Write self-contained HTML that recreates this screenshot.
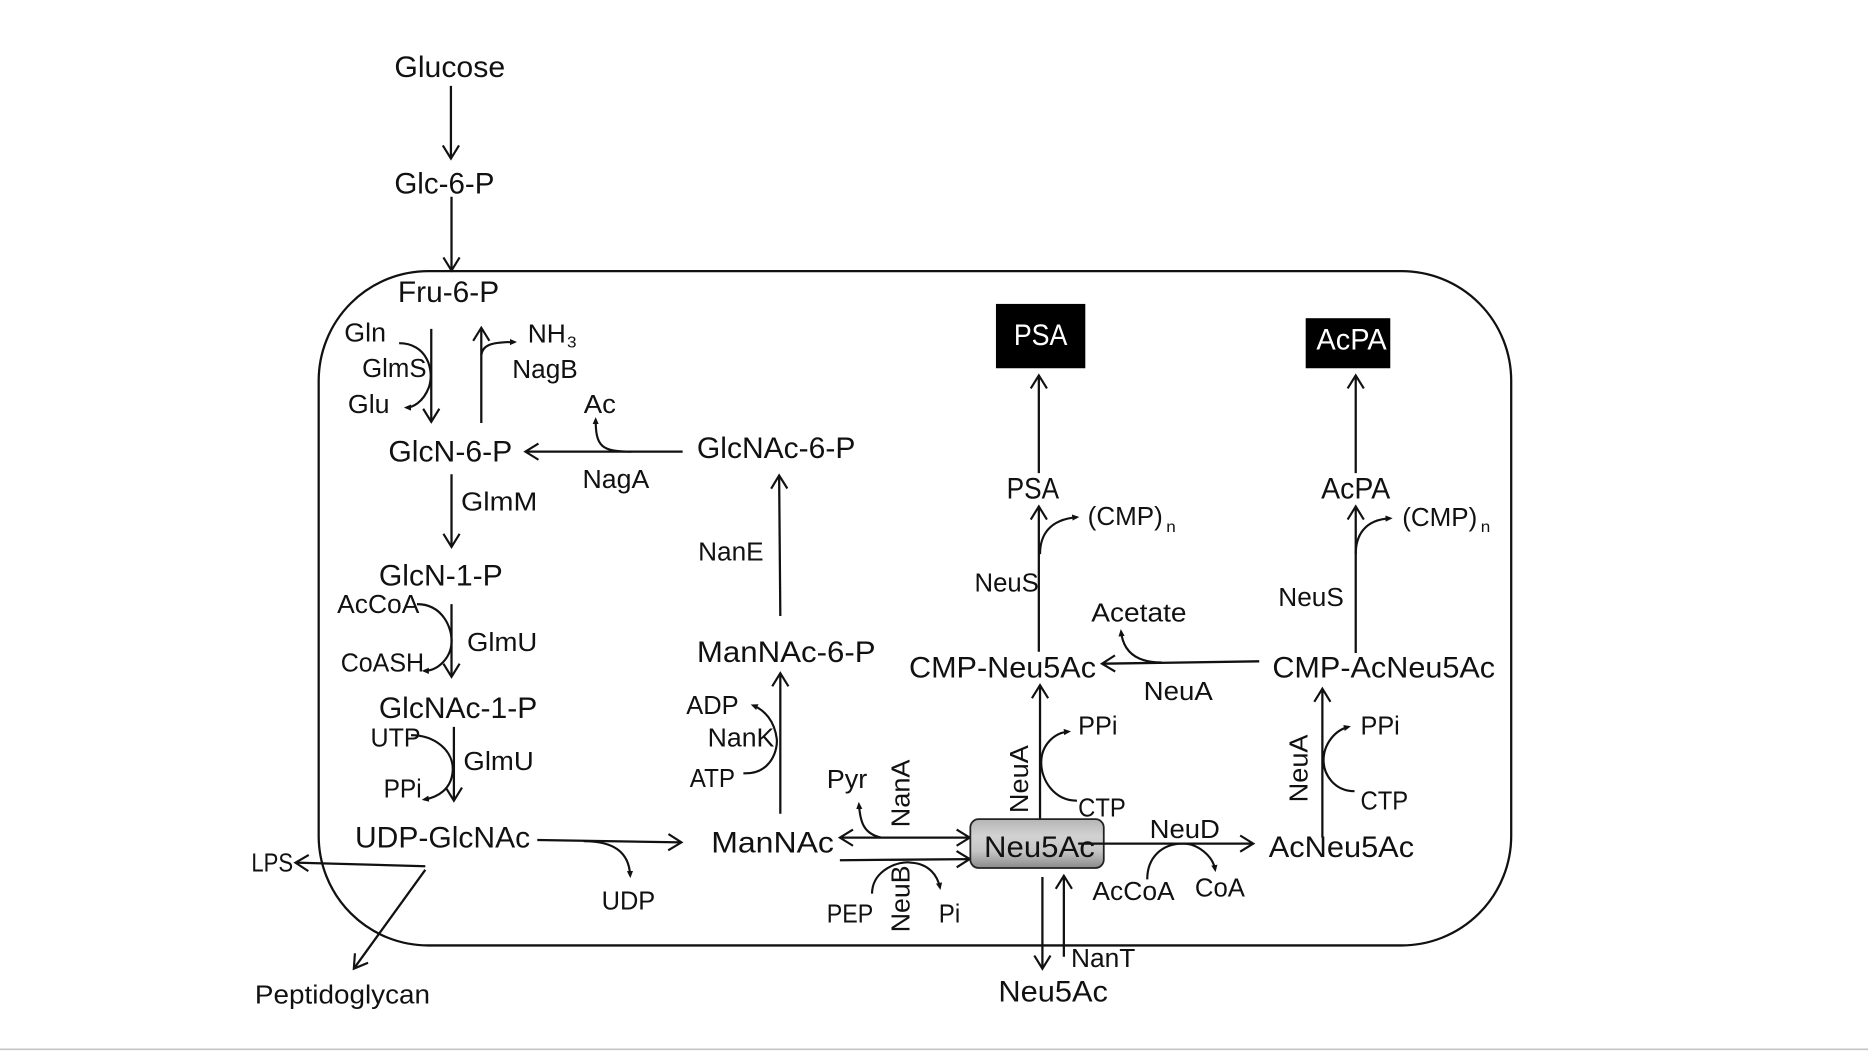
<!DOCTYPE html>
<html><head><meta charset="utf-8">
<style>
html,body{margin:0;padding:0;background:#fff;width:1868px;height:1051px;overflow:hidden}
svg{display:block}
text{font-family:"Liberation Sans",sans-serif;fill:#111}
.b{font-size:25px}.m{font-size:22px}.s{font-size:13px}
.l{fill:none;stroke:#111;stroke-width:1.9}
.a{marker-end:url(#v)}
.c{fill:none;stroke:#111;stroke-width:1.8;marker-end:url(#t)}
</style></head><body>
<svg width="1868" height="1051" viewBox="0 0 1568 882" xmlns="http://www.w3.org/2000/svg">
<defs>
<marker id="v" markerUnits="userSpaceOnUse" markerWidth="24" markerHeight="24" refX="14" refY="10" orient="auto-start-reverse" viewBox="0 0 24 20">
<path d="M3 3.2 L14 10 L3 16.8" fill="none" stroke="#111" stroke-width="1.8"/></marker>
<marker id="t" markerUnits="userSpaceOnUse" markerWidth="6" markerHeight="6" refX="4" refY="3" orient="auto" viewBox="0 0 6 6">
<path d="M0 0.4 L6 3 L0 5.6Z" fill="#111"/></marker>
<linearGradient id="g" x1="0" y1="0" x2="0" y2="1"><stop offset="0" stop-color="#b5b5b5"/><stop offset=".35" stop-color="#d2d2d2"/><stop offset=".65" stop-color="#c6c6c6"/><stop offset="1" stop-color="#8a8a8a"/></linearGradient>
</defs>
<rect x="0" y="0" width="1568" height="882" fill="#fff"/>
<line x1="0" y1="880.7" x2="1568" y2="880.7" stroke="#c4c4c4" stroke-width="1.4"/>
<rect x="267.5" y="227.5" width="1001" height="566" rx="92" ry="92" class="l"/>

<!-- straight arrows -->
<g class="l">
<path class="a" d="M378.5 72V133"/>
<path class="a" d="M379 165V227"/>
<path class="a" d="M362 276V354"/>
<path class="a" d="M404 355V275"/>
<path class="a" d="M573 379H441"/>
<path class="a" d="M379 398V459"/>
<path class="a" d="M379 507V568"/>
<path class="a" d="M381 610V672"/>
<path class="a" d="M451 705L572 707"/>
<path class="a" d="M357 727L248 724"/>
<path class="a" d="M357 730L297 813"/>
<path class="a" d="M655 683V565"/>
<path class="a" d="M655 517L654 399"/>
<path class="a" style="marker-start:url(#v)" d="M705 703H814"/>
<path class="a" d="M705 722L814 721"/>
<path class="a" d="M873 687V575"/>
<path class="a" d="M872 547V425"/>
<path class="a" d="M872 397V315"/>
<path class="a" d="M1057 555L925 557"/>
<path class="a" d="M1138 548V425"/>
<path class="a" d="M1138 397V315"/>
<path class="a" d="M1110 703V578"/>
<path class="a" d="M927 708H1052"/>
<path class="a" d="M875 736V813"/>
<path class="a" d="M893 803V735"/>
</g>
<!-- curved arrows -->
<path class="c" d="M335 288C358 288 365 310 360 325C355 338 346 342 341 342"/>
<path class="c" d="M404 298C405 290 411 287 432 287"/>
<path class="c" d="M530 379C505 379 500 375 500 352"/>
<path class="c" d="M350 507C372 507 380 528 379 540C378 552 368 563 356 563"/>
<path class="c" d="M345 617C365 617 381 630 380 647C379 662 368 669 356 671"/>
<path class="c" d="M490 706C515 706 528 715 529 735"/>
<path class="c" d="M624 649C648 650 653 628 652 620C650 605 642 596 632 592"/>
<path class="c" d="M740 703C725 700 722 690 721 675"/>
<path class="c" d="M732 750C732 730 755 722 765 724C780 725 787 735 789 745"/>
<path class="c" d="M904 672C885 672 874 655 874 640C874 625 885 615 897 614"/>
<path class="c" d="M873 465C873 450 880 436 904 434"/>
<path class="c" d="M975 556C955 556 943 548 941 530"/>
<path class="c" d="M1138 465C1138 450 1145 436 1167 435"/>
<path class="c" d="M1137 664C1120 664 1111 650 1111 638C1111 625 1120 613 1132 610"/>
<path class="c" d="M963 738C963 720 975 708 993 708C1005 708 1018 718 1020 730"/>

<!-- boxes -->
<rect x="836" y="255" width="75" height="54" fill="#000"/>
<rect x="1096" y="267" width="71" height="42" fill="#000"/>
<rect x="814.5" y="687.5" width="112" height="41" rx="7" ry="7" fill="url(#g)" stroke="#222" stroke-width="1.5"/>

<!-- labels -->
<g transform="translate(0,-0.6)">
<text class="b" x="331" y="65" textLength="93" lengthAdjust="spacingAndGlyphs">Glucose</text>
<text class="b" x="331" y="163" textLength="84" lengthAdjust="spacingAndGlyphs">Glc-6-P</text>
<text class="b" x="334" y="254" textLength="85" lengthAdjust="spacingAndGlyphs">Fru-6-P</text>
<text class="m" x="289" y="287" textLength="35" lengthAdjust="spacingAndGlyphs">Gln</text>
<text class="m" x="304" y="317" textLength="54" lengthAdjust="spacingAndGlyphs">GlmS</text>
<text class="m" x="292" y="347" textLength="35" lengthAdjust="spacingAndGlyphs">Glu</text>
<text class="m" x="443" y="288" textLength="32" lengthAdjust="spacingAndGlyphs">NH</text>
<text class="s" x="476" y="292" textLength="8" lengthAdjust="spacingAndGlyphs">3</text>
<text class="m" x="430" y="318" textLength="55" lengthAdjust="spacingAndGlyphs">NagB</text>
<text class="m" x="490" y="347" textLength="27" lengthAdjust="spacingAndGlyphs">Ac</text>
<text class="b" x="326" y="388" textLength="104" lengthAdjust="spacingAndGlyphs">GlcN-6-P</text>
<text class="b" x="585" y="385" textLength="133" lengthAdjust="spacingAndGlyphs">GlcNAc-6-P</text>
<text class="m" x="489" y="410" textLength="56" lengthAdjust="spacingAndGlyphs">NagA</text>
<text class="m" x="387" y="429" textLength="64" lengthAdjust="spacingAndGlyphs">GlmM</text>
<text class="m" x="586" y="471" textLength="55" lengthAdjust="spacingAndGlyphs">NanE</text>
<text class="b" x="318" y="492" textLength="104" lengthAdjust="spacingAndGlyphs">GlcN-1-P</text>
<text class="m" x="283" y="515" textLength="69" lengthAdjust="spacingAndGlyphs">AcCoA</text>
<text class="m" x="392" y="547" textLength="59" lengthAdjust="spacingAndGlyphs">GlmU</text>
<text class="m" x="286" y="564" textLength="70" lengthAdjust="spacingAndGlyphs">CoASH</text>
<text class="b" x="318" y="603" textLength="133" lengthAdjust="spacingAndGlyphs">GlcNAc-1-P</text>
<text class="m" x="311" y="627" textLength="42" lengthAdjust="spacingAndGlyphs">UTP</text>
<text class="m" x="389" y="647" textLength="59" lengthAdjust="spacingAndGlyphs">GlmU</text>
<text class="m" x="322" y="670" textLength="32" lengthAdjust="spacingAndGlyphs">PPi</text>
<text class="b" x="298" y="712" textLength="147" lengthAdjust="spacingAndGlyphs">UDP-GlcNAc</text>
<text class="m" x="211" y="732" textLength="35" lengthAdjust="spacingAndGlyphs">LPS</text>
<text class="m" x="505" y="764" textLength="45" lengthAdjust="spacingAndGlyphs">UDP</text>
<text class="m" x="214" y="843" textLength="147" lengthAdjust="spacingAndGlyphs">Peptidoglycan</text>
<text class="b" x="585" y="556" textLength="150" lengthAdjust="spacingAndGlyphs">ManNAc-6-P</text>
<text class="m" x="576" y="600" textLength="44" lengthAdjust="spacingAndGlyphs">ADP</text>
<text class="m" x="594" y="627" textLength="56" lengthAdjust="spacingAndGlyphs">NanK</text>
<text class="m" x="579" y="661" textLength="38" lengthAdjust="spacingAndGlyphs">ATP</text>
<text class="b" x="597" y="716" textLength="103" lengthAdjust="spacingAndGlyphs">ManNAc</text>
<text class="m" x="694" y="662" textLength="34" lengthAdjust="spacingAndGlyphs">Pyr</text>
<text class="m" transform="translate(763.5 695) rotate(-90)" textLength="57" lengthAdjust="spacingAndGlyphs">NanA</text>
<text class="m" transform="translate(763.5 783) rotate(-90)" textLength="56" lengthAdjust="spacingAndGlyphs">NeuB</text>
<text class="m" x="694" y="775" textLength="39" lengthAdjust="spacingAndGlyphs">PEP</text>
<text class="m" x="788" y="775" textLength="18" lengthAdjust="spacingAndGlyphs">Pi</text>
<text class="b" x="826" y="720" textLength="93" lengthAdjust="spacingAndGlyphs">Neu5Ac</text>
<text class="m" transform="translate(863 683) rotate(-90)" textLength="57" lengthAdjust="spacingAndGlyphs">NeuA</text>
<text class="m" x="905" y="686" textLength="40" lengthAdjust="spacingAndGlyphs">CTP</text>
<text class="m" x="905" y="617" textLength="33" lengthAdjust="spacingAndGlyphs">PPi</text>
<text class="m" x="965" y="704" textLength="59" lengthAdjust="spacingAndGlyphs">NeuD</text>
<text class="m" x="917" y="756" textLength="69" lengthAdjust="spacingAndGlyphs">AcCoA</text>
<text class="m" x="1003" y="753" textLength="42" lengthAdjust="spacingAndGlyphs">CoA</text>
<text class="m" x="899" y="812" textLength="54" lengthAdjust="spacingAndGlyphs">NanT</text>
<text class="b" x="838" y="841" textLength="92" lengthAdjust="spacingAndGlyphs">Neu5Ac</text>
<text class="b" x="1065" y="720" textLength="122" lengthAdjust="spacingAndGlyphs">AcNeu5Ac</text>
<text class="b" x="763" y="569" textLength="157" lengthAdjust="spacingAndGlyphs">CMP-Neu5Ac</text>
<text class="m" x="960" y="588" textLength="58" lengthAdjust="spacingAndGlyphs">NeuA</text>
<text class="m" x="916" y="522" textLength="80" lengthAdjust="spacingAndGlyphs">Acetate</text>
<text class="m" x="818" y="497" textLength="54" lengthAdjust="spacingAndGlyphs">NeuS</text>
<text class="b" x="845" y="419" textLength="44" lengthAdjust="spacingAndGlyphs">PSA</text>
<text class="m" x="913" y="441" textLength="63" lengthAdjust="spacingAndGlyphs">(CMP)</text>
<text class="s" x="979" y="447" textLength="8" lengthAdjust="spacingAndGlyphs">n</text>
<text class="b" x="851" y="290" textLength="45" lengthAdjust="spacingAndGlyphs" style="fill:#fff">PSA</text>
<text class="b" x="1105" y="294" textLength="59" lengthAdjust="spacingAndGlyphs" style="fill:#fff">AcPA</text>
<text class="b" x="1109" y="419" textLength="58" lengthAdjust="spacingAndGlyphs">AcPA</text>
<text class="m" x="1177" y="442" textLength="63" lengthAdjust="spacingAndGlyphs">(CMP)</text>
<text class="s" x="1243" y="447" textLength="8" lengthAdjust="spacingAndGlyphs">n</text>
<text class="m" x="1073" y="509" textLength="55" lengthAdjust="spacingAndGlyphs">NeuS</text>
<text class="b" x="1068" y="569" textLength="187" lengthAdjust="spacingAndGlyphs">CMP-AcNeu5Ac</text>
<text class="m" transform="translate(1097.5 674) rotate(-90)" textLength="57" lengthAdjust="spacingAndGlyphs">NeuA</text>
<text class="m" x="1142" y="617" textLength="33" lengthAdjust="spacingAndGlyphs">PPi</text>
<text class="m" x="1142" y="680" textLength="40" lengthAdjust="spacingAndGlyphs">CTP</text>
</g>
<line x1="905" y1="708" x2="927" y2="708" stroke="#111" stroke-width="1.9"/>
</svg>
</body></html>
